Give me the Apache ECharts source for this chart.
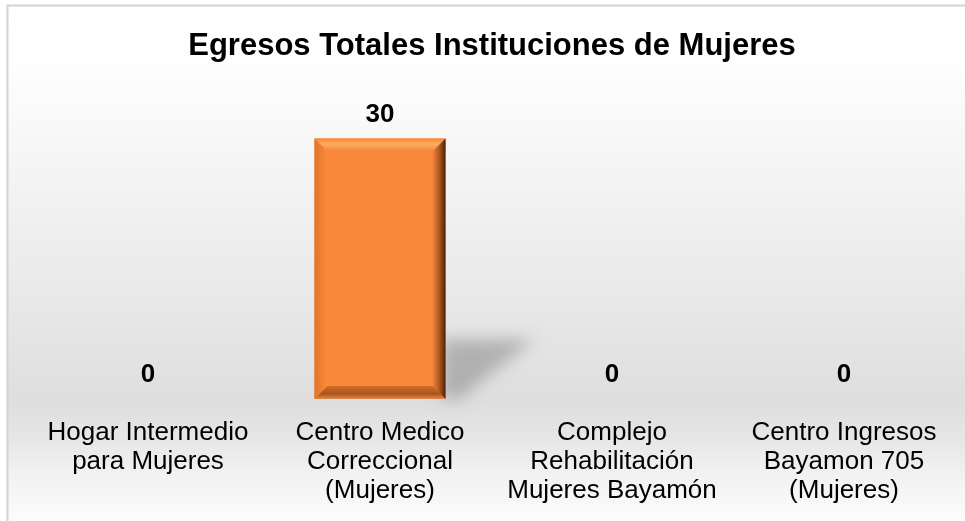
<!DOCTYPE html>
<html>
<head>
<meta charset="utf-8">
<script src="https://cdn.jsdelivr.net/npm/echarts@6/dist/echarts.min.js"></script>
<style>
html,body{margin:0;padding:0;background:#fff;}
#chart{width:965px;height:521px;}
</style>
</head>
<body>
<div id="chart"></div>
<script>
const titleText = 'Egresos Totales Instituciones de Mujeres';
const categories = [
  'Hogar Intermedio\npara Mujeres',
  'Centro Medico\nCorreccional\n(Mujeres)',
  'Complejo\nRehabilitación\nMujeres Bayamón',
  'Centro Ingresos\nBayamon 705\n(Mujeres)'
];
const values = [0, 30, 0, 0];

const chart = echarts.init(document.getElementById('chart'), null, {renderer: 'canvas'});

function lg(x, y, x2, y2, stops) {
  return new echarts.graphic.LinearGradient(x, y, x2, y2, stops.map((c) => ({offset: c[0], color: c[1]})));
}

function renderItem(params, api) {
  const idx = api.value(0);
  const v = api.value(1);
  const base = api.coord([idx, 0]);
  const top = api.coord([idx, v]);
  const bw = api.size([1, 0])[0] * 0.565;
  const x0 = base[0] - bw / 2, x1 = base[0] + bw / 2;
  const y0 = top[1], y1 = base[1];
  const children = [];
  if (v > 0) {
    const h = y1 - y0;
    const b = 13;
    const off = 3000;
    // soft cast shadow (shape drawn off-screen, only its blurred shadow is visible)
    children.push({
      type: 'polygon',
      shape: {points: [[x1 - 4 - off, y1 - 0.23 * h], [x1 + 0.68 * bw - off, y1 - 0.23 * h], [x1 + 0.1 * bw - off, y1], [x1 - 4 - off, y1]]},
      style: {fill: '#000', shadowBlur: 16, shadowColor: 'rgba(0,0,0,0.22)', shadowOffsetX: off, shadowOffsetY: 0},
      z2: 0
    });
    children.push({type: 'rect', shape: {x: x0, y: y0, width: bw, height: h}, style: {fill: '#FA883A'}, z2: 1});
    // top bevel
    children.push({type: 'polygon', shape: {points: [[x0, y0], [x1, y0], [x1 - b, y0 + b], [x0 + b, y0 + b]]},
      style: {fill: lg(0, 0, 0, 1, [[0, '#f48433'], [0.45, '#fdac62'], [1, '#f5853a']])}, z2: 2});
    // left bevel
    children.push({type: 'polygon', shape: {points: [[x0, y0], [x0 + b, y0 + b], [x0 + b, y1 - b], [x0, y1]]},
      style: {fill: lg(0, 0, 1, 0, [[0, '#e1752d'], [1, '#f98a3c']])}, z2: 2});
    // right bevel
    children.push({type: 'polygon', shape: {points: [[x1, y0], [x1, y1], [x1 - b, y1 - b], [x1 - b, y0 + b]]},
      style: {fill: lg(0, 0, 1, 0, [[0, '#f0843a'], [0.5, '#b25a1f'], [1, '#4a2306']])}, z2: 2});
    // bottom bevel
    children.push({type: 'polygon', shape: {points: [[x0, y1], [x1, y1], [x1 - b, y1 - b], [x0 + b, y1 - b]]},
      style: {fill: lg(0, 0, 0, 1, [[0, '#d26d2a'], [0.6, '#a9531b'], [1, '#e08a50']])}, z2: 3});
  }
  children.push({
    type: 'text',
    style: {
      text: String(v), x: base[0], y: y0 - 11, align: 'center', verticalAlign: 'bottom',
      font: 'bold 26px "Liberation Sans", Arial, sans-serif', fill: '#000'
    },
    z2: 5
  });
  return {type: 'group', children: children};
}

const option = {
  animation: false,
  backgroundColor: '#ffffff',
  graphic: [{
    type: 'rect', z: -10, silent: true,
    shape: {x: 7.5, y: 5.5, width: 1000, height: 600},
    style: {
      stroke: '#d4d4d4', lineWidth: 2,
      fill: lg(0, 0, 0, 1, [[0, '#ffffff'], [0.1, '#fefefe'], [0.3, '#f3f3f3'], [0.6, '#e2e2e2'], [0.66, '#dedede'], [0.72, '#e6e6e6'], [0.78, '#f2f2f2'], [0.86, '#fcfcfc'], [1, '#ffffff']])
    }
  }],
  title: {
    text: titleText, left: 487, top: 26, textAlign: 'center',
    textStyle: {fontFamily: '"Liberation Sans", Arial, sans-serif', fontWeight: 'bold', fontSize: 31, color: '#000'}
  },
  grid: {left: 32, right: 5, top: 95, bottom: 122, containLabel: false},
  xAxis: {
    type: 'category', data: categories,
    axisLine: {show: false}, axisTick: {show: false}, splitLine: {show: false},
    axisLabel: {
      interval: 0, margin: 19, color: '#000', fontSize: 26, lineHeight: 29,
      fontFamily: '"Liberation Sans", Arial, sans-serif', align: 'center'
    }
  },
  yAxis: {type: 'value', min: 0, max: 35, show: false, splitLine: {show: false}},
  series: [{
    type: 'custom', renderItem: renderItem,
    data: values.map((v, i) => [i, v]),
    encode: {x: 0, y: 1}, clip: false
  }]
};
chart.setOption(option);
</script>
</body>
</html>
